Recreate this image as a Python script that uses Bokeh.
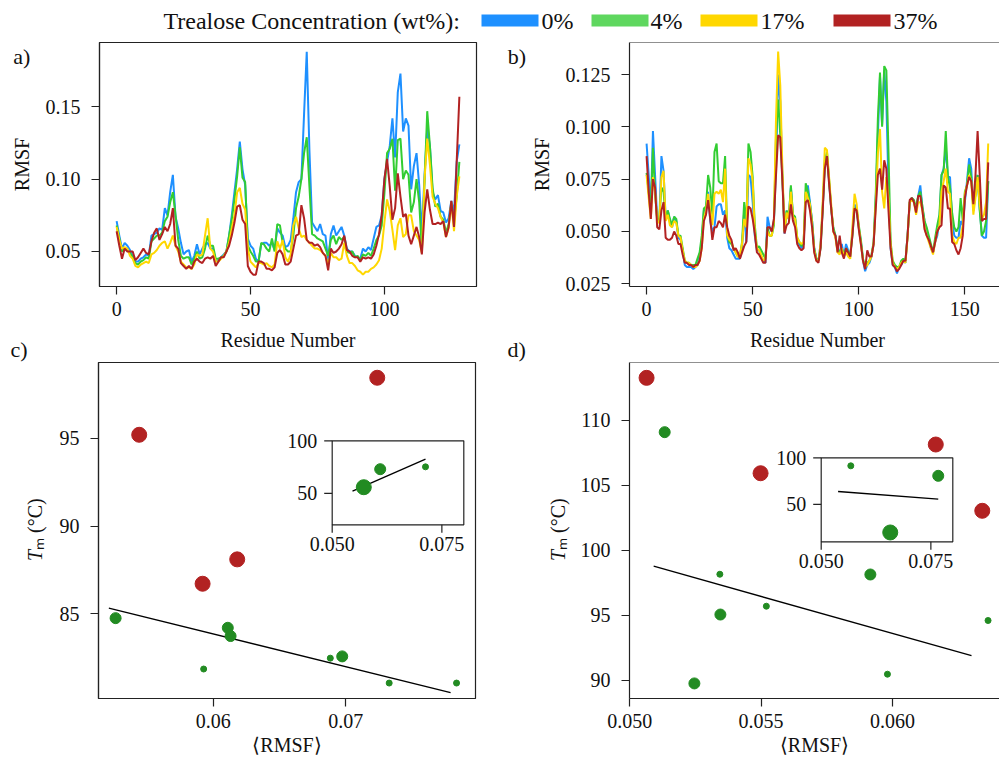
import math
from bokeh.plotting import figure
from bokeh.models import Range1d, Span, FixedTicker, NumeralTickFormatter, ColumnDataSource
from bokeh.layouts import column, row
from bokeh.embed import file_html
from bokeh.resources import INLINE
from bokeh.core.properties import value

# ---------------- data ----------------
series_names = ["0%", "4%", "17%", "37%"]
legend_title = "Trealose Concentration (wt%):"

# panel a: residues 0..128
a_blue = [0.071,0.061,0.052,0.056,0.054,0.051,0.047,0.043,0.043,0.045,
          0.046,0.048,0.047,0.061,0.062,0.063,0.066,0.065,0.080,0.075,
          0.091,0.103,0.074,0.066,0.056,0.048,0.050,0.051,0.043,0.047,
          0.055,0.048,0.052,0.055,0.056,0.052,0.052,0.043,0.044,0.046,
          0.048,0.050,0.061,0.075,0.091,0.107,0.126,0.107,0.096,0.059,
          0.054,0.052,0.045,0.043,0.055,0.056,0.056,0.054,0.056,0.051,
          0.066,0.063,0.061,0.053,0.054,0.058,0.073,0.091,0.098,0.100,
          0.145,0.188,0.120,0.070,0.067,0.064,0.069,0.062,0.061,0.043,
          0.062,0.068,0.061,0.064,0.067,0.061,0.052,0.050,0.050,0.047,
          0.046,0.045,0.052,0.050,0.053,0.051,0.059,0.067,0.068,0.075,
          0.100,0.112,0.123,0.142,0.115,0.160,0.173,0.133,0.142,0.137,
          0.093,0.109,0.118,0.096,0.063,0.103,0.135,0.123,0.091,0.086,
          0.089,0.078,0.077,0.070,0.073,0.085,0.077,0.112,0.124]
a_green = [0.068,0.059,0.050,0.052,0.051,0.049,0.046,0.042,0.041,0.043,
           0.044,0.046,0.045,0.057,0.059,0.061,0.061,0.063,0.071,0.074,
           0.084,0.091,0.075,0.058,0.047,0.045,0.046,0.046,0.041,0.045,
           0.050,0.045,0.046,0.052,0.061,0.054,0.054,0.045,0.045,0.046,
           0.047,0.050,0.061,0.072,0.086,0.102,0.122,0.101,0.098,0.054,
           0.050,0.047,0.043,0.043,0.056,0.055,0.052,0.050,0.059,0.050,
           0.069,0.068,0.056,0.052,0.050,0.050,0.061,0.080,0.088,0.100,
           0.118,0.129,0.095,0.062,0.061,0.059,0.058,0.057,0.052,0.047,
           0.058,0.061,0.055,0.060,0.058,0.060,0.050,0.049,0.050,0.046,
           0.047,0.044,0.048,0.047,0.049,0.047,0.052,0.058,0.061,0.068,
           0.090,0.118,0.121,0.128,0.092,0.127,0.128,0.100,0.106,0.103,
           0.077,0.084,0.100,0.084,0.051,0.098,0.147,0.123,0.094,0.081,
           0.083,0.074,0.072,0.063,0.069,0.083,0.071,0.088,0.112]
a_yellow = [0.067,0.058,0.052,0.053,0.052,0.047,0.045,0.040,0.039,0.041,
            0.042,0.043,0.042,0.048,0.049,0.051,0.054,0.056,0.057,0.052,
            0.056,0.061,0.054,0.050,0.043,0.041,0.039,0.039,0.038,0.041,
            0.048,0.047,0.048,0.061,0.073,0.052,0.050,0.043,0.043,0.045,
            0.047,0.050,0.056,0.066,0.075,0.091,0.094,0.083,0.079,0.052,
            0.043,0.041,0.039,0.042,0.042,0.041,0.042,0.040,0.039,0.041,
            0.057,0.052,0.058,0.046,0.043,0.048,0.068,0.074,0.066,0.060,
            0.061,0.058,0.056,0.054,0.052,0.052,0.051,0.049,0.047,0.041,
            0.049,0.046,0.046,0.044,0.045,0.056,0.047,0.042,0.042,0.040,
            0.037,0.036,0.034,0.036,0.036,0.038,0.039,0.041,0.044,0.052,
            0.070,0.086,0.078,0.065,0.051,0.068,0.073,0.060,0.062,0.075,
            0.075,0.064,0.061,0.058,0.049,0.100,0.128,0.110,0.088,0.083,
            0.080,0.074,0.070,0.060,0.066,0.084,0.064,0.088,0.102]
a_red = [0.064,0.054,0.045,0.052,0.050,0.050,0.050,0.044,0.046,0.049,
         0.052,0.049,0.048,0.057,0.063,0.066,0.058,0.062,0.067,0.064,
         0.069,0.080,0.054,0.052,0.042,0.040,0.038,0.040,0.038,0.043,
         0.045,0.043,0.042,0.045,0.046,0.045,0.047,0.040,0.043,0.046,
         0.046,0.050,0.054,0.061,0.070,0.081,0.082,0.072,0.069,0.040,
         0.036,0.034,0.034,0.043,0.043,0.042,0.038,0.038,0.037,0.039,
         0.049,0.051,0.048,0.041,0.041,0.043,0.052,0.061,0.062,0.082,
         0.073,0.058,0.056,0.056,0.054,0.055,0.053,0.049,0.047,0.037,
         0.052,0.049,0.050,0.052,0.055,0.061,0.051,0.050,0.047,0.046,
         0.046,0.043,0.046,0.045,0.046,0.045,0.048,0.054,0.062,0.075,
         0.100,0.114,0.095,0.072,0.080,0.104,0.088,0.074,0.076,0.061,
         0.055,0.061,0.067,0.060,0.048,0.077,0.093,0.079,0.069,0.069,
         0.070,0.069,0.071,0.060,0.067,0.085,0.067,0.112,0.157]

# panel b: residues 0..161
b_blue = [0.092,0.077,0.060,0.098,0.077,0.056,0.055,0.086,0.079,0.056,
          0.060,0.055,0.052,0.057,0.055,0.047,0.046,0.041,0.034,0.033,
          0.033,0.033,0.032,0.033,0.034,0.039,0.045,0.060,0.061,0.069,
          0.055,0.050,0.052,0.062,0.063,0.063,0.058,0.060,0.047,0.042,
          0.041,0.039,0.037,0.037,0.037,0.042,0.060,0.045,0.077,0.076,
          0.064,0.048,0.041,0.041,0.038,0.036,0.035,0.057,0.052,0.050,
          0.055,0.080,0.125,0.112,0.077,0.049,0.060,0.056,0.071,0.057,
          0.056,0.045,0.044,0.042,0.044,0.068,0.072,0.064,0.055,0.042,
          0.037,0.036,0.044,0.061,0.084,0.087,0.074,0.061,0.051,0.048,
          0.041,0.040,0.044,0.038,0.044,0.041,0.038,0.050,0.063,0.060,
          0.052,0.045,0.036,0.031,0.034,0.035,0.038,0.044,0.065,0.096,
          0.124,0.101,0.127,0.112,0.072,0.042,0.034,0.033,0.030,0.033,
          0.034,0.036,0.035,0.048,0.064,0.066,0.064,0.060,0.067,0.072,
          0.061,0.055,0.050,0.047,0.042,0.040,0.045,0.048,0.055,0.077,
          0.080,0.090,0.076,0.076,0.055,0.048,0.047,0.047,0.055,0.053,
          0.064,0.074,0.085,0.080,0.061,0.068,0.077,0.061,0.048,0.047,
          0.047,0.074]
b_green = [0.078,0.069,0.061,0.090,0.068,0.056,0.056,0.071,0.069,0.056,
           0.060,0.056,0.053,0.057,0.056,0.048,0.048,0.042,0.036,0.035,
           0.035,0.034,0.034,0.034,0.037,0.040,0.048,0.061,0.062,0.077,
           0.071,0.058,0.088,0.092,0.074,0.073,0.073,0.086,0.049,0.045,
           0.044,0.042,0.040,0.038,0.038,0.045,0.064,0.053,0.092,0.088,
           0.076,0.053,0.042,0.043,0.041,0.039,0.037,0.052,0.048,0.048,
           0.053,0.096,0.113,0.096,0.076,0.050,0.060,0.056,0.072,0.058,
           0.057,0.047,0.045,0.043,0.044,0.073,0.069,0.063,0.055,0.042,
           0.037,0.036,0.042,0.061,0.082,0.088,0.075,0.061,0.052,0.048,
           0.042,0.040,0.042,0.039,0.042,0.040,0.039,0.048,0.061,0.061,
           0.053,0.046,0.037,0.033,0.035,0.036,0.039,0.045,0.068,0.104,
           0.126,0.100,0.129,0.127,0.088,0.045,0.036,0.034,0.033,0.033,
           0.036,0.037,0.036,0.048,0.064,0.066,0.065,0.061,0.067,0.069,
           0.062,0.055,0.052,0.048,0.044,0.040,0.047,0.053,0.058,0.077,
           0.079,0.098,0.076,0.071,0.059,0.052,0.050,0.052,0.066,0.055,
           0.069,0.072,0.082,0.076,0.060,0.068,0.077,0.060,0.048,0.050,
           0.055,0.074]
b_yellow = [0.077,0.066,0.056,0.076,0.069,0.055,0.054,0.076,0.079,0.055,
            0.058,0.053,0.052,0.055,0.054,0.048,0.047,0.041,0.036,0.035,
            0.035,0.034,0.033,0.033,0.034,0.036,0.042,0.056,0.060,0.068,
            0.060,0.053,0.068,0.069,0.068,0.070,0.064,0.080,0.048,0.046,
            0.045,0.042,0.040,0.038,0.039,0.044,0.056,0.052,0.085,0.082,
            0.074,0.050,0.042,0.041,0.039,0.036,0.037,0.050,0.048,0.048,
            0.055,0.104,0.136,0.120,0.080,0.050,0.059,0.056,0.069,0.057,
            0.056,0.047,0.045,0.044,0.045,0.069,0.066,0.063,0.053,0.041,
            0.036,0.036,0.044,0.064,0.090,0.089,0.076,0.063,0.050,0.047,
            0.040,0.039,0.042,0.038,0.040,0.038,0.037,0.052,0.068,0.063,
            0.052,0.044,0.036,0.033,0.034,0.036,0.038,0.044,0.063,0.087,
            0.099,0.069,0.061,0.076,0.066,0.044,0.035,0.033,0.032,0.033,
            0.035,0.036,0.035,0.047,0.064,0.065,0.064,0.058,0.064,0.064,
            0.060,0.052,0.048,0.045,0.042,0.039,0.045,0.050,0.053,0.069,
            0.074,0.080,0.069,0.068,0.048,0.045,0.044,0.047,0.047,0.053,
            0.068,0.072,0.077,0.074,0.058,0.066,0.076,0.063,0.056,0.058,
            0.064,0.092]
b_red = [0.086,0.069,0.056,0.075,0.071,0.052,0.051,0.060,0.064,0.047,
         0.046,0.046,0.047,0.050,0.048,0.044,0.044,0.039,0.035,0.035,
         0.034,0.034,0.033,0.034,0.034,0.036,0.042,0.055,0.058,0.065,
         0.056,0.046,0.052,0.052,0.055,0.054,0.052,0.058,0.052,0.048,
         0.046,0.041,0.042,0.040,0.037,0.040,0.043,0.045,0.062,0.061,
         0.056,0.049,0.040,0.039,0.037,0.035,0.035,0.052,0.052,0.050,
         0.056,0.077,0.096,0.095,0.074,0.049,0.053,0.054,0.063,0.055,
         0.052,0.044,0.042,0.041,0.042,0.064,0.065,0.060,0.052,0.040,
         0.036,0.035,0.042,0.060,0.080,0.086,0.073,0.061,0.050,0.048,
         0.040,0.048,0.040,0.037,0.042,0.040,0.038,0.048,0.061,0.060,
         0.051,0.044,0.036,0.032,0.041,0.038,0.038,0.044,0.061,0.077,
         0.080,0.070,0.084,0.080,0.060,0.042,0.034,0.033,0.031,0.032,
         0.034,0.036,0.036,0.048,0.065,0.066,0.064,0.059,0.067,0.067,
         0.060,0.051,0.048,0.046,0.043,0.040,0.045,0.050,0.052,0.053,
         0.072,0.071,0.061,0.061,0.045,0.044,0.041,0.039,0.042,0.048,
         0.066,0.072,0.076,0.074,0.063,0.077,0.098,0.077,0.055,0.056,
         0.056,0.083]

# panel c
c_red_x = [0.07237, 0.05442, 0.06181, 0.05920]
c_red_y = [98.46, 95.21, 88.11, 86.72]
c_green_x = [0.05264, 0.06110, 0.06131, 0.05928, 0.06883, 0.06973, 0.07327, 0.07835]
c_green_y = [84.76, 84.21, 83.74, 81.86, 82.48, 82.58, 81.06, 81.06]
c_green_size = [11, 11, 11, 6, 6, 11, 6, 6]
c_fit_x = [0.05213, 0.07790]
c_fit_y = [85.33, 80.52]
ci_x = [0.05720, 0.06094, 0.07127]
ci_y = [55.8, 72.95, 75.2]
ci_size = [15, 11, 6]
ci_fit_x = [0.05463, 0.07127]
ci_fit_y = [52.0, 82.5]

# panel d
d_red_x = [0.05064, 0.05498, 0.06165, 0.06342]
d_red_y = [113.26, 105.92, 108.13, 103.03]
d_green_x = [0.05133, 0.05343, 0.05345, 0.05520, 0.05246, 0.05916, 0.05981, 0.06364]
d_green_y = [109.08, 98.15, 95.05, 95.69, 89.75, 98.13, 90.46, 94.59]
d_green_size = [11, 6, 11, 6, 11, 11, 6, 6]
d_fit_x = [0.05091, 0.06301]
d_fit_y = [98.77, 91.88]
di_x = [0.05675, 0.07668, 0.06574]
di_y = [91.4, 80.7, 20.0]
di_size = [6, 11, 15]
di_fit_x = [0.05385, 0.07668]
di_fit_y = [63.9, 55.7]

inset_xticks = [0.050, 0.075]
inset_xlabels = ["0.050", "0.075"]
inset_yticks = [50, 100]
inset_ylabels = ["50", "100"]

# ---------------- style ----------------
FONT = "Liberation Serif"
AXC = "#222222"
TXT = "#111111"
LINE_COLORS = ["#1E90FF", "#32CD32", "#FFD700", "#B22222"]
LEG_COLORS = ["#1E90FF", "#5FD75F", "#FFD700", "#B22222"]
RED = "#B22222"
GREEN = "#228B22"
PANEL_FS = "22px"


def base_fig(w, h, xr, yr, ml, mr, mt, mb, outline=True):
    p = figure(width=w, height=h, x_range=Range1d(*xr), y_range=Range1d(*yr),
               output_backend="svg", toolbar_location=None,
               min_border_left=ml, min_border_right=mr,
               min_border_top=mt, min_border_bottom=mb)
    p.grid.visible = False
    p.background_fill_color = "white"
    p.border_fill_color = "white"
    p.outline_line_color = AXC if outline else None
    p.outline_line_width = 1.2
    for ax in (p.xaxis[0], p.yaxis[0]):
        ax.axis_line_color = AXC
        ax.axis_line_width = 1.2
        ax.major_tick_line_color = AXC
        ax.major_tick_line_width = 1.2
        ax.major_tick_out = 8
        ax.major_tick_in = 0
        ax.minor_tick_line_color = None
        ax.major_label_text_font = FONT
        ax.major_label_text_font_size = "20px"
        ax.major_label_text_color = TXT
        ax.axis_label_text_font = FONT
        ax.axis_label_text_font_size = "20px"
        ax.axis_label_text_font_style = "normal"
        ax.axis_label_text_color = TXT
    p.xaxis[0].major_label_standoff = 7
    p.xaxis[0].axis_label_standoff = 3
    p.yaxis[0].major_label_standoff = 11
    if not outline:
        p.add_layout(Span(location=yr[1], dimension="width", line_color=AXC, line_width=1.2))
    return p


class Pad:
    """A plain text area whose frame spans page rows [ftop, fbot]."""
    def __init__(self, w, h, mt, mb, ftop, fbot):
        self.ftop, self.fbot = ftop, fbot
        p = figure(width=w, height=h, x_range=Range1d(0, w), y_range=Range1d(0, fbot - ftop),
                   output_backend="svg", toolbar_location=None,
                   x_axis_location=None, y_axis_location=None,
                   min_border_left=0, min_border_right=0, min_border_top=mt, min_border_bottom=mb)
        p.grid.visible = False
        p.outline_line_color = None
        p.background_fill_color = "white"
        p.border_fill_color = "white"
        self.p = p

    def text(self, x, page_y, text, size="20px", angle=0.0, align="left", style="normal"):
        self.p.text(x=[x], y=[self.fbot - page_y], text=[text], angle=angle, text_align=align,
                    text_baseline="middle", text_font=value(FONT), text_font_size=value(size),
                    text_font_style=style, text_color=TXT)

    def tm(self, x, page_y):
        self.text(x, page_y, "T", angle=math.pi / 2, align="right", style="italic")
        self.text(x, page_y, "ₘ (°C)", angle=math.pi / 2, align="left")


def strip(h, top):
    # full-width strip, page coordinates (y downwards)
    p = figure(width=999, height=h, x_range=Range1d(0, 999), y_range=Range1d(top + h, top),
               output_backend="svg", toolbar_location=None,
               x_axis_location=None, y_axis_location=None,
               min_border_left=0, min_border_right=0, min_border_top=0, min_border_bottom=0)
    p.grid.visible = False
    p.outline_line_color = None
    p.background_fill_color = "white"
    p.border_fill_color = "white"
    return p


def strip_text(p, xs, ys, texts, size, align="left"):
    p.text(x=xs, y=ys, text=texts, text_font=value(FONT), text_font_size=value(size),
           text_baseline="middle", text_align=align, text_color=TXT)


def add_inset(p, frame_px, box_px, xlim, ylim, px_, py_, ps_, fx, fy, name):
    fl, fr, ft, fbm = frame_px
    bl, br, bt, bb = box_px
    sx = (xlim[1] - xlim[0]) / (br - bl)
    sy = (ylim[1] - ylim[0]) / (bb - bt)
    xr = Range1d(xlim[0] - (bl - fl) * sx, xlim[1] + (fr - br) * sx)
    yr = Range1d(ylim[0] - (fbm - bb) * sy, ylim[1] + (bt - ft) * sy)
    p.extra_x_ranges = {name + "x": xr}
    p.extra_y_ranges = {name + "y": yr}
    kw = dict(x_range_name=name + "x", y_range_name=name + "y")
    p.quad(left=[xlim[0]], right=[xlim[1]], bottom=[ylim[0]], top=[ylim[1]],
           fill_color="white", line_color=AXC, line_width=1.2, **kw)
    tick = 8
    p.segment(x0=[xlim[0]] * len(inset_yticks), x1=[xlim[0] - tick * sx] * len(inset_yticks),
              y0=inset_yticks, y1=inset_yticks, line_color=AXC, line_width=1.2, **kw)
    p.text(x=[xlim[0]] * len(inset_yticks), y=inset_yticks, text=inset_ylabels,
           x_offset=-(tick + 7), text_align="right", text_baseline="middle",
           text_font=value(FONT), text_font_size=value("20px"), text_color=TXT, **kw)
    p.segment(x0=inset_xticks, x1=inset_xticks, y0=[ylim[0]] * len(inset_xticks),
              y1=[ylim[0] - tick * sy] * len(inset_xticks), line_color=AXC, line_width=1.2, **kw)
    p.text(x=inset_xticks, y=[ylim[0]] * len(inset_xticks), text=inset_xlabels,
           y_offset=tick + 4, text_align="center", text_baseline="top",
           text_font=value(FONT), text_font_size=value("20px"), text_color=TXT, **kw)
    p.line(fx, fy, line_color="black", line_width=1.3, **kw)
    src = ColumnDataSource(dict(x=px_, y=py_, s=ps_))
    p.scatter("x", "y", size="s", source=src, fill_color=GREEN, line_color=GREEN, **kw)


# panel-label anchor positions (page px, text middle)
LAB_AB_Y = 55.5
LAB_CD_Y = 349

# ---------------- legend strip (page y 0..42) ----------------
L = strip(42, 0)
sw_left = [481, 591, 700, 833]
sw_w = 57
lab_left = [541, 650, 760, 893]
strip_text(L, [163], [20], [legend_title], "24px")
L.quad(left=sw_left, right=[v + sw_w for v in sw_left], top=[14] * 4, bottom=[26] * 4,
       fill_color=LEG_COLORS, line_color=None)
strip_text(L, lab_left, [20] * 4, series_names, "24px")

# ---------------- row 1 (page y 42..326), frames 42..286 ----------------
H1 = 284
pa = Pad(40, H1, 0, 40, 42, 286)
pa.text(12.7, LAB_AB_Y, "a)", size=PANEL_FS)
pa.text(21.7, 164, "RMSF", angle=math.pi / 2, align="center")

fa = base_fig(460, H1, (-6.4, 134.4), (0.0258, 0.1945), 59, 24, 0, 40)
ra = list(range(len(a_blue)))
for ys, c in zip([a_blue, a_green, a_yellow, a_red], LINE_COLORS):
    fa.line(ra, ys, line_color=c, line_width=2)
fa.xaxis[0].ticker = FixedTicker(ticks=[0, 50, 100])
fa.yaxis[0].ticker = FixedTicker(ticks=[0.05, 0.10, 0.15])
fa.yaxis[0].formatter = NumeralTickFormatter(format="0.00")

pb = Pad(60, H1, 0, 40, 42, 286)
pb.text(7.3, LAB_AB_Y, "b)", size=PANEL_FS)
pb.text(41, 164, "RMSF", angle=math.pi / 2, align="center")

fb = base_fig(439, H1, (-8.05, 166.32), (0.0237, 0.1403), 69, 0, 0, 40, outline=False)
rb = list(range(len(b_blue)))
for ys, c in zip([b_blue, b_green, b_yellow, b_red], LINE_COLORS):
    fb.line(rb, ys, line_color=c, line_width=2)
fb.xaxis[0].ticker = FixedTicker(ticks=[0, 50, 100, 150])
fb.yaxis[0].ticker = FixedTicker(ticks=[0.025, 0.050, 0.075, 0.100, 0.125])
fb.yaxis[0].formatter = NumeralTickFormatter(format="0.000")

# ---------------- strip between rows (page y 326..362) ----------------
S2 = strip(36, 326)
strip_text(S2, [287.5, 817], [339, 339], ["Residue Number", "Residue Number"], "20px", align="center")
strip_text(S2, [10, 507], [LAB_CD_Y] * 2, ["c)", "d)"], PANEL_FS)

# ---------------- row 2 (page y 362..759), frames 362..698 ----------------
H2 = 397
pc = Pad(50, H2, 0, 61, 362, 698)
pc.tm(34, 549.5)

fc = base_fig(450, H2, (0.05135, 0.07978), (80.18, 99.33), 48, 25, 0, 61)
fc.line(c_fit_x, c_fit_y, line_color="black", line_width=1.3)
fc.scatter(c_red_x, c_red_y, size=15, fill_color=RED, line_color=RED)
fc.scatter("x", "y", size="s", fill_color=GREEN, line_color=GREEN,
           source=ColumnDataSource(dict(x=c_green_x, y=c_green_y, s=c_green_size)))
fc.xaxis[0].ticker = FixedTicker(ticks=[0.06, 0.07])
fc.xaxis[0].formatter = NumeralTickFormatter(format="0.00")
fc.yaxis[0].ticker = FixedTicker(ticks=[85, 90, 95])
fc.xaxis[0].axis_label = "⟨RMSF⟩"
add_inset(fc, (98, 475, 362, 698), (331.7, 463.3, 440.3, 524.3), (0.05, 0.08), (20, 100),
          ci_x, ci_y, ci_size, ci_fit_x, ci_fit_y, "ic")

pd_ = Pad(75, H2, 0, 61, 362, 698)
pd_.tm(57, 549.5)

fd = base_fig(424, H2, (0.04999, 0.064076), (88.59, 114.44), 54, 0, 0, 61, outline=False)
fd.line(d_fit_x, d_fit_y, line_color="black", line_width=1.3)
fd.scatter(d_red_x, d_red_y, size=15, fill_color=RED, line_color=RED)
fd.scatter("x", "y", size="s", fill_color=GREEN, line_color=GREEN,
           source=ColumnDataSource(dict(x=d_green_x, y=d_green_y, s=d_green_size)))
fd.xaxis[0].ticker = FixedTicker(ticks=[0.050, 0.055, 0.060])
fd.xaxis[0].formatter = NumeralTickFormatter(format="0.000")
fd.yaxis[0].ticker = FixedTicker(ticks=[90, 95, 100, 105, 110])
fd.xaxis[0].axis_label = "⟨RMSF⟩"
add_inset(fd, (629, 999, 362, 698), (820.7, 952.3, 457.3, 541.3), (0.05, 0.08), (10, 100),
          di_x, di_y, di_size, di_fit_x, di_fit_y, "id")

layout = column(L, row(pa.p, fa, pb.p, fb), S2, row(pc.p, fc, pd_.p, fd))
open("out.html", "w").write(file_html(layout, INLINE))
